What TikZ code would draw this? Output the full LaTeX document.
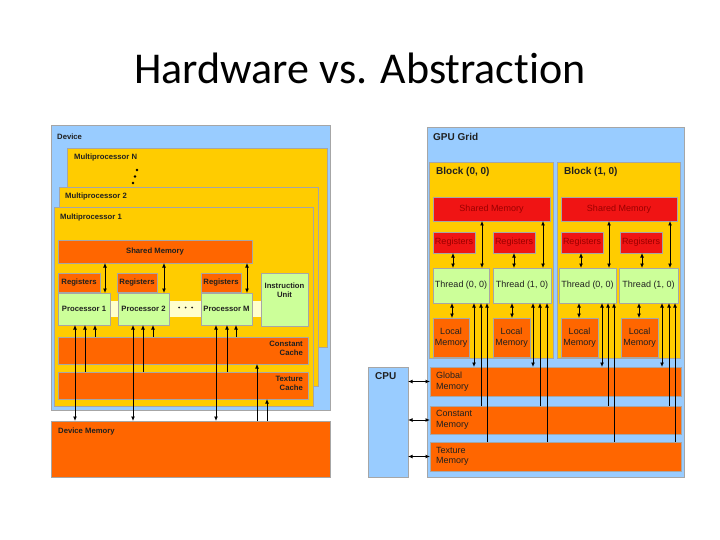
\documentclass[tikz,border=0pt]{standalone}
\usepackage{fontspec}
\setmainfont{Liberation Sans}
\newfontfamily\titlefont[Ligatures={NoCommon,NoRare,NoContextual}]{Carlito}
\usetikzlibrary{arrows.meta}
\definecolor{lblue}{HTML}{99CCFF}
\definecolor{myyellow}{HTML}{FFCC00}
\definecolor{myorange}{HTML}{FF6600}
\definecolor{myred}{HTML}{F01414}
\definecolor{mygreen}{HTML}{CCFF99}
\definecolor{lyellow}{HTML}{FFFFCC}
\definecolor{darkred}{HTML}{9A0000}
\definecolor{txt}{HTML}{202020}
\tikzset{
  bx/.style={draw=black!35, line width=0.6pt, inner sep=0pt, outer sep=0pt, anchor=north west},
  lbl/.style={inner sep=0pt, text=txt, font=\fontsize{7.7}{8.8}\selectfont\bfseries},
  rlbl/.style={inner sep=0pt, text=txt, font=\fontsize{9}{10.5}\selectfont},
  rbold/.style={inner sep=0pt, text=txt, font=\fontsize{10}{12}\selectfont\bfseries},
  arr/.style={-{Latex[length=4.5pt,width=4pt]}, line width=0.9pt},
  darr/.style={{Latex[length=4.5pt,width=4pt]}-{Latex[length=4.5pt,width=4pt]}, line width=0.9pt},
}
\begin{document}
\begin{tikzpicture}[x=1pt,y=-1pt]
\useasboundingbox (0,0) rectangle (720,540);
\fill[white] (0,0) rectangle (720,540);
% Title
\node[inner sep=0pt, anchor=base, font=\titlefont\fontsize{44}{50}\selectfont] (title) at (360,84) {Hardware vs. Abstraction};

% ================= LEFT: hardware =================
\node[bx, fill=lblue, minimum width=279, minimum height=285] (device) at (51,125) {};
\node[lbl, anchor=west] (devlbl) at (57,137) {Device};
\node[bx, fill=myyellow, minimum width=260, minimum height=199] (mpN) at (67,148) {};
\node[lbl, anchor=west] (mpNlbl) at (74,158) {Multiprocessor N};
\fill[black] (137,170) circle (1.3) (135,176.5) circle (1.3) (133,183) circle (1.3);
\node[bx, fill=myyellow, minimum width=259, minimum height=199] (mp2) at (59,187) {};
\node[lbl, anchor=west] (mp2lbl) at (65,197) {Multiprocessor 2};
\node[bx, fill=myyellow, minimum width=259, minimum height=199] (mp1) at (54,207) {};
\node[lbl, anchor=west] (mp1lbl) at (60,218) {Multiprocessor 1};

\node[bx, fill=myorange, minimum width=194, minimum height=23] (smemL) at (58,240) {};
\node[lbl] at (smemL.center) {Shared Memory};

\node[bx, fill=myorange, minimum width=42, minimum height=19] (r1) at (58,273) {};
\node[lbl] at (r1.center) {Registers};
\node[bx, fill=myorange, minimum width=40, minimum height=19] (r2) at (117,273) {};
\node[lbl] at (r2.center) {Registers};
\node[bx, fill=myorange, minimum width=40, minimum height=19] (r3) at (201,273) {};
\node[lbl] at (r3.center) {Registers};

\node[draw=none, fill=lyellow, inner sep=0pt, outer sep=0pt, anchor=north west, minimum width=203, minimum height=16] (strip) at (58,301) {};
\node[bx, fill=mygreen, minimum width=52, minimum height=32] (p1) at (58,293) {};
\node[lbl] at (p1.center) {Processor 1};
\node[bx, fill=mygreen, minimum width=51, minimum height=32] (p2) at (118,293) {};
\node[lbl] at (p2.center) {Processor 2};
\node[bx, fill=mygreen, minimum width=51, minimum height=32] (pM) at (201,293) {};
\node[lbl] at (pM.center) {Processor M};
\fill[txt] (179,307.5) circle (1) (185.5,307.5) circle (1) (192,307.5) circle (1);

\node[bx, fill=mygreen, minimum width=47, minimum height=53] (iu) at (261,273) {};
\node[lbl, align=center, anchor=north] at ([yshift=-10]iu.north) {Instruction\\Unit};

\node[bx, fill=myorange, minimum width=250, minimum height=27] (ccache) at (58,337) {};
\node[lbl, align=right, anchor=north east] at (303,341) {Constant\\Cache};
\node[bx, fill=myorange, minimum width=250, minimum height=27] (tcache) at (58,372) {};
\node[lbl, align=right, anchor=north east] at (303,376) {Texture\\Cache};

\node[bx, fill=myorange, minimum width=279, minimum height=56] (devmem) at (51,421) {};
\node[lbl, anchor=west] at (58,432) {Device Memory};

% left arrows
\draw[darr] (105,0 |- smemL.south) -- (105,0 |- p1.north);
\draw[darr] (164,0 |- smemL.south) -- (164,0 |- p2.north);
\draw[darr] (247,0 |- smemL.south) -- (247,0 |- pM.north);
\draw[darr] (75,0 |- p1.south) -- (75,0 |- devmem.north);
\draw[darr] (133,0 |- p2.south) -- (133,0 |- devmem.north);
\draw[darr] (216,0 |- pM.south) -- (216,0 |- devmem.north);
\draw[arr] (85,0 |- tcache.north) -- (85,0 |- p1.south);
\draw[arr] (143,0 |- tcache.north) -- (143,0 |- p2.south);
\draw[arr] (227,0 |- tcache.north) -- (227,0 |- pM.south);
\draw[arr] (95,0 |- ccache.north) -- (95,0 |- p1.south);
\draw[arr] (153,0 |- ccache.north) -- (153,0 |- p2.south);
\draw[arr] (236,0 |- ccache.north) -- (236,0 |- pM.south);
\draw[arr] (257,0 |- devmem.north) -- (257,0 |- ccache.south);
\draw[arr] (267,0 |- devmem.north) -- (267,0 |- tcache.south);

% ================= RIGHT: abstraction =================
\node[bx, fill=lblue, minimum width=257, minimum height=350] (grid) at (427,127) {};
\node[rbold, anchor=west] at (433,137) {GPU Grid};
\node[bx, fill=lblue, minimum width=40, minimum height=110] (cpu) at (368,367) {};
\node[rbold, anchor=west] at (375,376) {CPU};

\node[bx, fill=myyellow, minimum width=124, minimum height=196] (blk0) at (429,162) {};
\node[rbold, anchor=west] at (436,172) {Block (0, 0)};
\node[bx, fill=myyellow, minimum width=123, minimum height=196] (blk1) at (557,162) {};
\node[rbold, anchor=west] at (564,172) {Block (1, 0)};

\node[bx, fill=myred, minimum width=117, minimum height=24] (shm0) at (433,197) {};
\node[rlbl, text=darkred] at (shm0.center) {Shared Memory};
\node[bx, fill=myred, minimum width=116, minimum height=24] (shm1) at (561,197) {};
\node[rlbl, text=darkred] at (shm1.center) {Shared Memory};

\node[bx, fill=myred, minimum width=42, minimum height=21] (rg0) at (433,232) {};
\node[rlbl, text=darkred] at (rg0.center) {Registers};
\node[bx, fill=myred, minimum width=42, minimum height=21] (rg1) at (493,232) {};
\node[rlbl, text=darkred] at (rg1.center) {Registers};
\node[bx, fill=myred, minimum width=42, minimum height=21] (rg2) at (561,232) {};
\node[rlbl, text=darkred] at (rg2.center) {Registers};
\node[bx, fill=myred, minimum width=42, minimum height=21] (rg3) at (620,232) {};
\node[rlbl, text=darkred] at (rg3.center) {Registers};

\node[bx, fill=mygreen, minimum width=56, minimum height=35] (th0) at (433,268) {};
\node[rlbl] at (th0.center) {Thread (0, 0)};
\node[bx, fill=mygreen, minimum width=58, minimum height=35] (th1) at (493,268) {};
\node[rlbl] at (th1.center) {Thread (1, 0)};
\node[bx, fill=mygreen, minimum width=57, minimum height=35] (th2) at (559,268) {};
\node[rlbl] at (th2.center) {Thread (0, 0)};
\node[bx, fill=mygreen, minimum width=59, minimum height=35] (th3) at (619,268) {};
\node[rlbl] at (th3.center) {Thread (1, 0)};

\node[bx, fill=myorange, minimum width=36, minimum height=39] (lm0) at (433,318) {};
\node[rlbl, align=center] at (lm0.center) {Local\\Memory};
\node[bx, fill=myorange, minimum width=37, minimum height=39] (lm1) at (493,318) {};
\node[rlbl, align=center] at (lm1.center) {Local\\Memory};
\node[bx, fill=myorange, minimum width=37, minimum height=39] (lm2) at (561,318) {};
\node[rlbl, align=center] at (lm2.center) {Local\\Memory};
\node[bx, fill=myorange, minimum width=37, minimum height=39] (lm3) at (621,318) {};
\node[rlbl, align=center] at (lm3.center) {Local\\Memory};

\node[bx, fill=myorange, minimum width=251, minimum height=29] (glob) at (430,367) {};
\node[rlbl, align=left, anchor=west] at (436,381.5) {Global\\Memory};
\node[bx, fill=myorange, minimum width=251, minimum height=28] (cmem) at (430,406) {};
\node[rlbl, align=left, anchor=west] at (436,420) {Constant\\Memory};
\node[bx, fill=myorange, minimum width=251, minimum height=29] (tmem) at (430,442) {};
\node[rlbl, align=left, anchor=west] at (436,456.5) {Texture\\Memory};

% right arrows
\draw[darr] (453,0 |- rg0.south) -- (453,0 |- th0.north);
\draw[darr] (514,0 |- rg1.south) -- (514,0 |- th1.north);
\draw[darr] (581,0 |- rg2.south) -- (581,0 |- th2.north);
\draw[darr] (642,0 |- rg3.south) -- (642,0 |- th3.north);
\draw[darr] (482,0 |- shm0.south) -- (482,0 |- th0.north);
\draw[darr] (543,0 |- shm0.south) -- (543,0 |- th1.north);
\draw[darr] (609,0 |- shm1.south) -- (609,0 |- th2.north);
\draw[darr] (670,0 |- shm1.south) -- (670,0 |- th3.north);
\draw[darr] (452,0 |- th0.south) -- (452,0 |- lm0.north);
\draw[darr] (512,0 |- th1.south) -- (512,0 |- lm1.north);
\draw[darr] (579,0 |- th2.south) -- (579,0 |- lm2.north);
\draw[darr] (639,0 |- th3.south) -- (639,0 |- lm3.north);
\draw[darr] (474,0 |- th0.south) -- (474,0 |- glob.north);
\draw[darr] (533,0 |- th1.south) -- (533,0 |- glob.north);
\draw[darr] (602,0 |- th2.south) -- (602,0 |- glob.north);
\draw[darr] (662,0 |- th3.south) -- (662,0 |- glob.north);
\draw[arr] (481,0 |- cmem.north) -- (481,0 |- th0.south);
\draw[arr] (540,0 |- cmem.north) -- (540,0 |- th1.south);
\draw[arr] (608,0 |- cmem.north) -- (608,0 |- th2.south);
\draw[arr] (669,0 |- cmem.north) -- (669,0 |- th3.south);
\draw[arr] (487,0 |- tmem.north) -- (487,0 |- th0.south);
\draw[arr] (547,0 |- tmem.north) -- (547,0 |- th1.south);
\draw[arr] (614,0 |- tmem.north) -- (614,0 |- th2.south);
\draw[arr] (675,0 |- tmem.north) -- (675,0 |- th3.south);
\draw[darr] (cpu.east |- glob.west) -- (glob.west);
\draw[darr] (cpu.east |- cmem.west) -- (cmem.west);
\draw[darr] (cpu.east |- tmem.west) -- (tmem.west);
\end{tikzpicture}
\end{document}
